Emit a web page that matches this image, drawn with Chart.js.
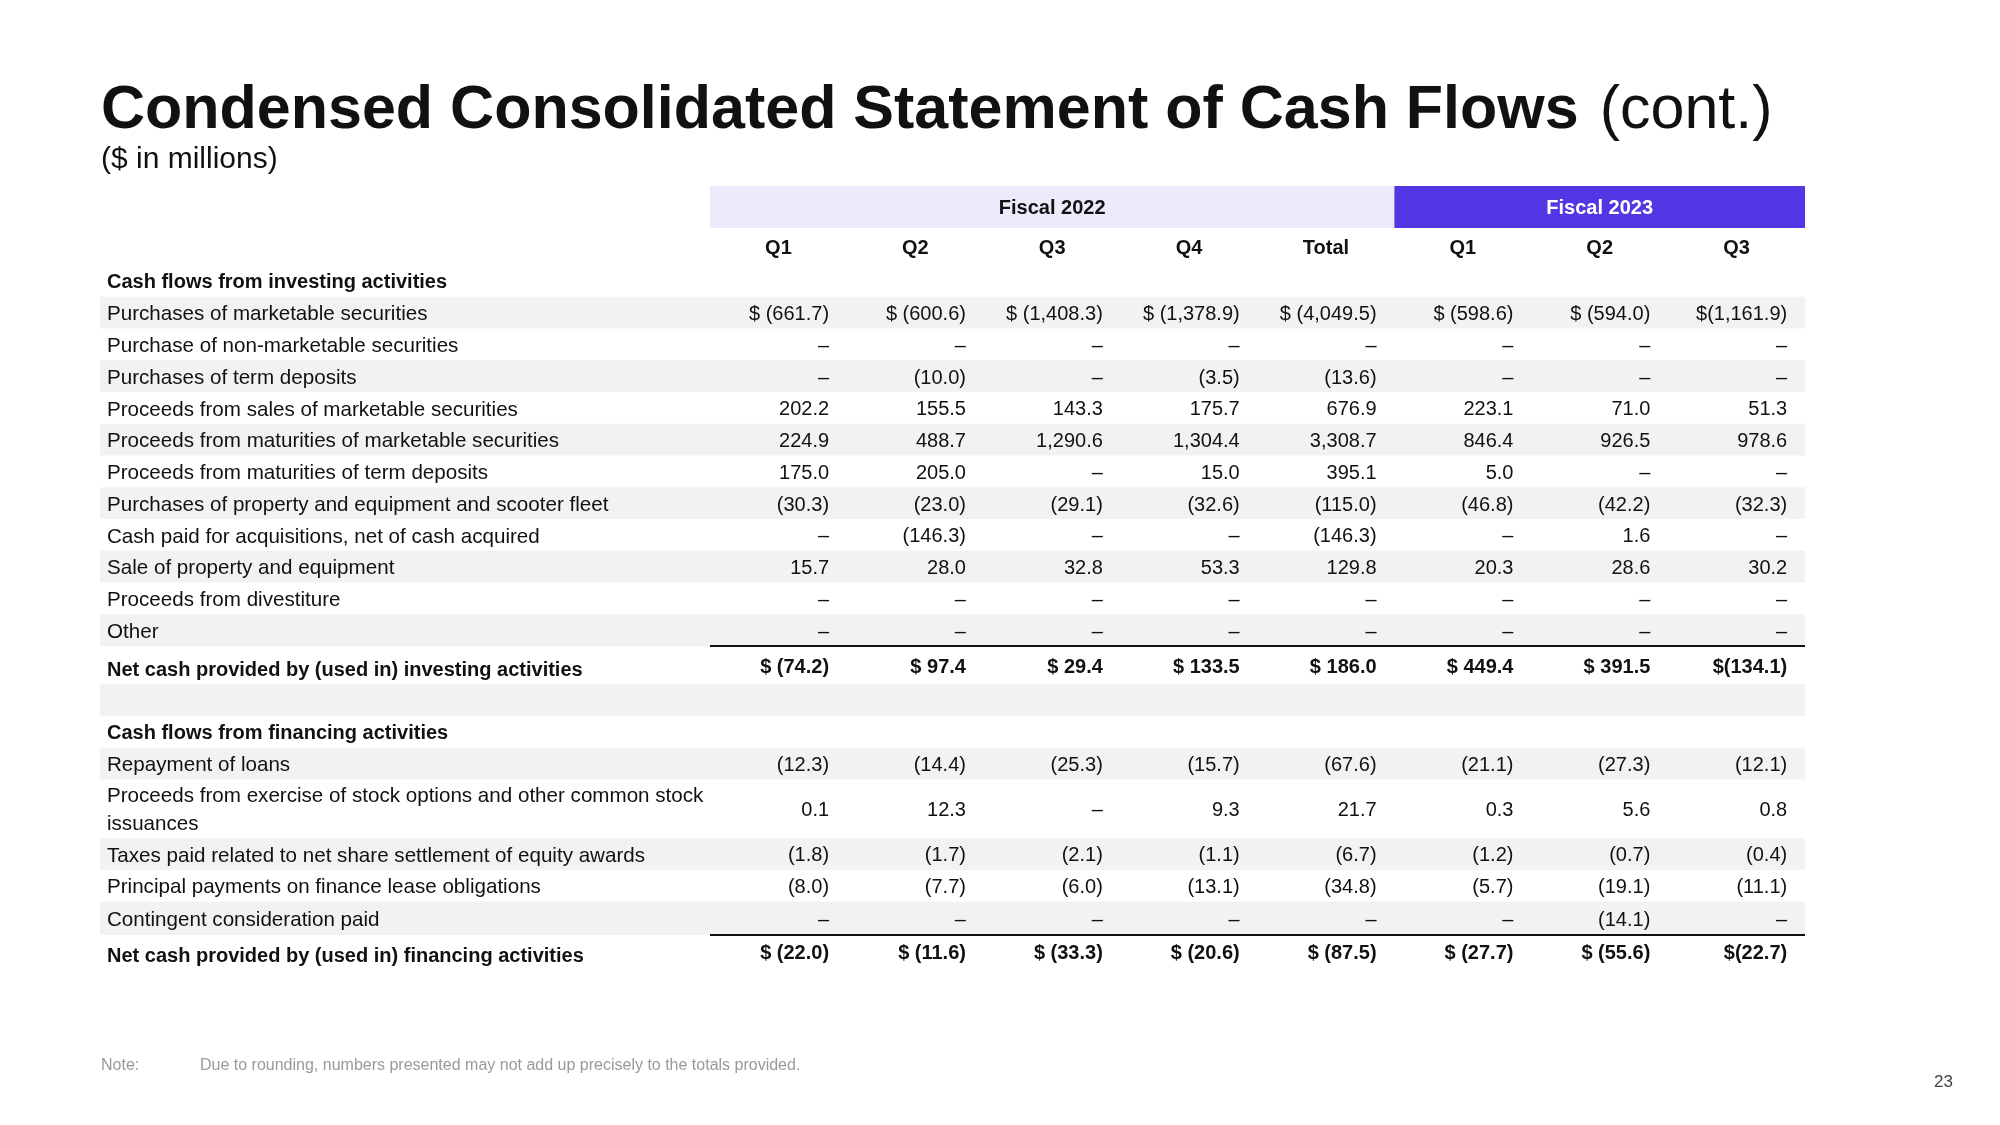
<!DOCTYPE html>
<html>
<head>
<meta charset="utf-8">
<title>Condensed Consolidated Statement of Cash Flows (cont.)</title>
<script src="https://cdn.jsdelivr.net/npm/chart.js@4.4.1/dist/chart.umd.min.js"></script>
<style>
  html, body { margin: 0; padding: 0; background: #fff; }
  #wrap { position: relative; width: 2000px; height: 1125px; }
</style>
</head>
<body>
<div id="wrap"><canvas id="chart" width="2000" height="1125"></canvas></div>
<script>
// column headers
const fiscalYears = ['Fiscal 2022', 'Fiscal 2023'];
const fiscalSpans = [5, 3];
const quarters = ['Q1', 'Q2', 'Q3', 'Q4', 'Total', 'Q1', 'Q2', 'Q3'];

// row labels
const rowLabels = [
    'Cash flows from investing activities',
    'Purchases of marketable securities',
    'Purchase of non-marketable securities',
    'Purchases of term deposits',
    'Proceeds from sales of marketable securities',
    'Proceeds from maturities of marketable securities',
    'Proceeds from maturities of term deposits',
    'Purchases of property and equipment and scooter fleet',
    'Cash paid for acquisitions, net of cash acquired',
    'Sale of property and equipment',
    'Proceeds from divestiture',
    'Other',
    'Net cash provided by (used in) investing activities',
    '',
    'Cash flows from financing activities',
    'Repayment of loans',
    ['Proceeds from exercise of stock options and other common stock', 'issuances'],
    'Taxes paid related to net share settlement of equity awards',
    'Principal payments on finance lease obligations',
    'Contingent consideration paid',
    'Net cash provided by (used in) financing activities'
];
const rowKinds = ['header', 'item', 'item', 'item', 'item', 'item', 'item', 'item', 'item', 'item', 'item', 'item',
    'total', 'blank', 'header', 'item', 'item', 'item', 'item', 'item', 'total'];
// rows shown with a "$" sign
const dollarRows = [1, 12, 20];

// values ($ millions), null = "–"
const fy22q1 =    [null, -661.7,  null, null,  202.2, 224.9,  175.0, -30.3,  null,   15.7,  null, null, -74.2, null, null, -12.3, 0.1,  -1.8, -8.0,  null,  -22.0];
const fy22q2 =    [null, -600.6,  null, -10.0, 155.5, 488.7,  205.0, -23.0,  -146.3, 28.0,  null, null, 97.4,  null, null, -14.4, 12.3, -1.7, -7.7,  null,  -11.6];
const fy22q3 =    [null, -1408.3, null, null,  143.3, 1290.6, null,  -29.1,  null,   32.8,  null, null, 29.4,  null, null, -25.3, null, -2.1, -6.0,  null,  -33.3];
const fy22q4 =    [null, -1378.9, null, -3.5,  175.7, 1304.4, 15.0,  -32.6,  null,   53.3,  null, null, 133.5, null, null, -15.7, 9.3,  -1.1, -13.1, null,  -20.6];
const fy22total = [null, -4049.5, null, -13.6, 676.9, 3308.7, 395.1, -115.0, -146.3, 129.8, null, null, 186.0, null, null, -67.6, 21.7, -6.7, -34.8, null,  -87.5];
const fy23q1 =    [null, -598.6,  null, null,  223.1, 846.4,  5.0,   -46.8,  null,   20.3,  null, null, 449.4, null, null, -21.1, 0.3,  -1.2, -5.7,  null,  -27.7];
const fy23q2 =    [null, -594.0,  null, null,  71.0,  926.5,  null,  -42.2,  1.6,    28.6,  null, null, 391.5, null, null, -27.3, 5.6,  -0.7, -19.1, -14.1, -55.6];
const fy23q3 =    [null, -1161.9, null, null,  51.3,  978.6,  null,  -32.3,  null,   30.2,  null, null, -134.1, null, null, -12.1, 0.8, -0.4, -11.1, null,  -22.7];
const series = [fy22q1, fy22q2, fy22q3, fy22q4, fy22total, fy23q1, fy23q2, fy23q3];

// layout (row units)
const rowHeights = [1, 1, 1, 1, 1, 1, 1, 1, 1, 1, 1, 1, 1.2, 1, 1, 1, 1.85, 1, 1, 1.05, 1.05];
const ROW_PX = 31.75;
const HEAD_TOP = -2.488;
const HEAD_SPLIT = -1.165;
const LABEL_COLS = 4.4566;
const CELL_PAD = 0.13;
const FONT = '"Liberation Sans", Arial, sans-serif';

const rowTop = [];
let total = 0;
rowHeights.forEach(h => { rowTop.push(total); total += h; });
const rowMid = rowTop.map((t, i) => t + rowHeights[i] / 2);

function fmt(v, r, c) {
    if (v === null) return '\u2013';
    let s = Math.abs(v).toLocaleString('en-US', { minimumFractionDigits: 1, maximumFractionDigits: 1 });
    if (v < 0) s = '(' + s + ')';
    if (dollarRows.includes(r)) s = (c === 7 ? '$' : '$ ') + s;
    return s;
}

// one dataset per column, one point per row
const datasets = series.map((vals, c) => ({
    label: quarters[c],
    data: vals.map((v, r) => ({ x: c + 1 - CELL_PAD, y: rowMid[r], v: v, r: r }))
        .filter(p => rowKinds[p.r] === 'item' || rowKinds[p.r] === 'total'),
    pointRadius: 0,
    pointHoverRadius: 0,
    showLine: false
}));

const tablePlugin = {
    id: 'table',
    beforeDatasetsDraw(chart) {
        const ctx = chart.ctx;
        const x = chart.scales.x, y = chart.scales.y;
        const left = x.getPixelForValue(-LABEL_COLS), right = x.getPixelForValue(8);
        ctx.save();

        // striped rows
        ctx.fillStyle = '#f2f2f2';
        rowKinds.forEach((k, r) => {
            if (r % 2 === 1) {
                const t = y.getPixelForValue(rowTop[r]), b = y.getPixelForValue(rowTop[r] + rowHeights[r]);
                ctx.fillRect(left, t, right - left, b - t);
            }
        });

        // fiscal year bands
        const ht = y.getPixelForValue(HEAD_TOP), hb = y.getPixelForValue(HEAD_SPLIT);
        let start = 0;
        fiscalYears.forEach((fy, i) => {
            const x0 = x.getPixelForValue(start), x1 = x.getPixelForValue(start + fiscalSpans[i]);
            ctx.fillStyle = i === 0 ? '#ebebfc' : '#5238e4';
            ctx.fillRect(x0, ht, x1 - x0, hb - ht);
            ctx.fillStyle = i === 0 ? '#111' : '#fff';
            ctx.font = 'bold 20px ' + FONT;
            ctx.textAlign = 'center';
            ctx.textBaseline = 'middle';
            ctx.fillText(fy, (x0 + x1) / 2, (ht + hb) / 2 + 1);
            start += fiscalSpans[i];
        });

        // quarter headers
        ctx.fillStyle = '#111';
        quarters.forEach((q, c) => {
            ctx.fillText(q, x.getPixelForValue(c + 0.5), y.getPixelForValue(HEAD_SPLIT / 2) + 2);
        });

        // rules above totals
        ctx.strokeStyle = '#111';
        ctx.lineWidth = 2;
        rowKinds.forEach((k, r) => {
            if (k === 'total') {
                const ly = Math.round(y.getPixelForValue(rowTop[r]));
                ctx.beginPath();
                ctx.moveTo(x.getPixelForValue(0), ly);
                ctx.lineTo(right, ly);
                ctx.stroke();
            }
        });

        // row labels
        ctx.textAlign = 'left';
        const lx = left + 7;
        rowLabels.forEach((lab, r) => {
            const bold = rowKinds[r] === 'header' || rowKinds[r] === 'total';
            ctx.font = bold ? 'bold 20px ' + FONT : '20.6px ' + FONT;
            const cy = y.getPixelForValue(rowMid[r]) + 2;
            if (Array.isArray(lab)) {
                ctx.fillText(lab[0], lx, cy - 14);
                ctx.fillText(lab[1], lx, cy + 14);
            } else {
                ctx.fillText(lab, lx, cy + (rowKinds[r] === 'total' ? 3 : 0));
            }
        });
        ctx.restore();
    },
    afterDatasetsDraw(chart) {
        const ctx = chart.ctx;
        ctx.save();
        ctx.fillStyle = '#111';
        ctx.textAlign = 'right';
        ctx.textBaseline = 'middle';
        chart.data.datasets.forEach((ds, c) => {
            chart.getDatasetMeta(c).data.forEach((el, j) => {
                const p = ds.data[j];
                ctx.font = (rowKinds[p.r] === 'total' ? 'bold ' : '') + '20px ' + FONT;
                ctx.fillText(fmt(p.v, p.r, c), el.x, el.y + 2);
            });
        });
        ctx.restore();
    },
    afterDraw(chart) {
        const ctx = chart.ctx;
        ctx.save();
        ctx.textBaseline = 'alphabetic';
        ctx.textAlign = 'left';
        ctx.fillStyle = '#111';

        // title
        ctx.font = 'bold 61px ' + FONT;
        const main = 'Condensed Consolidated Statement of Cash Flows';
        ctx.fillText(main, 101, 128);
        const w = ctx.measureText(main + ' ').width;
        ctx.font = '61px ' + FONT;
        ctx.fillText('(cont.)', 101 + w + 4, 128);

        ctx.font = '30px ' + FONT;
        ctx.fillText('($ in millions)', 101, 168);

        // footnote
        ctx.fillStyle = '#999';
        ctx.font = '16px ' + FONT;
        ctx.fillText('Note:', 101, 1070);
        ctx.fillText('Due to rounding, numbers presented may not add up precisely to the totals provided.', 200, 1070);

        // page number
        ctx.fillStyle = '#444';
        ctx.font = '17px ' + FONT;
        ctx.textAlign = 'right';
        ctx.fillText('23', 1953, 1087);
        ctx.restore();
    }
};

const chart = document.querySelector('#chart').getContext('2d');

new Chart(chart, {
    type: 'scatter',
    data: { datasets: datasets },
    options: {
        responsive: false,
        animation: false,
        events: [],
        layout: {
            padding: { left: 100, right: 195, top: 186, bottom: 1125 - 186 - (total - HEAD_TOP) * ROW_PX }
        },
        plugins: {
            legend: { display: false },
            tooltip: { enabled: false }
        },
        scales: {
            x: { type: 'linear', display: false, min: -LABEL_COLS, max: 8 },
            y: { type: 'linear', display: false, reverse: true, min: HEAD_TOP, max: total }
        }
    },
    plugins: [tablePlugin]
});
</script>
</body>
</html>
